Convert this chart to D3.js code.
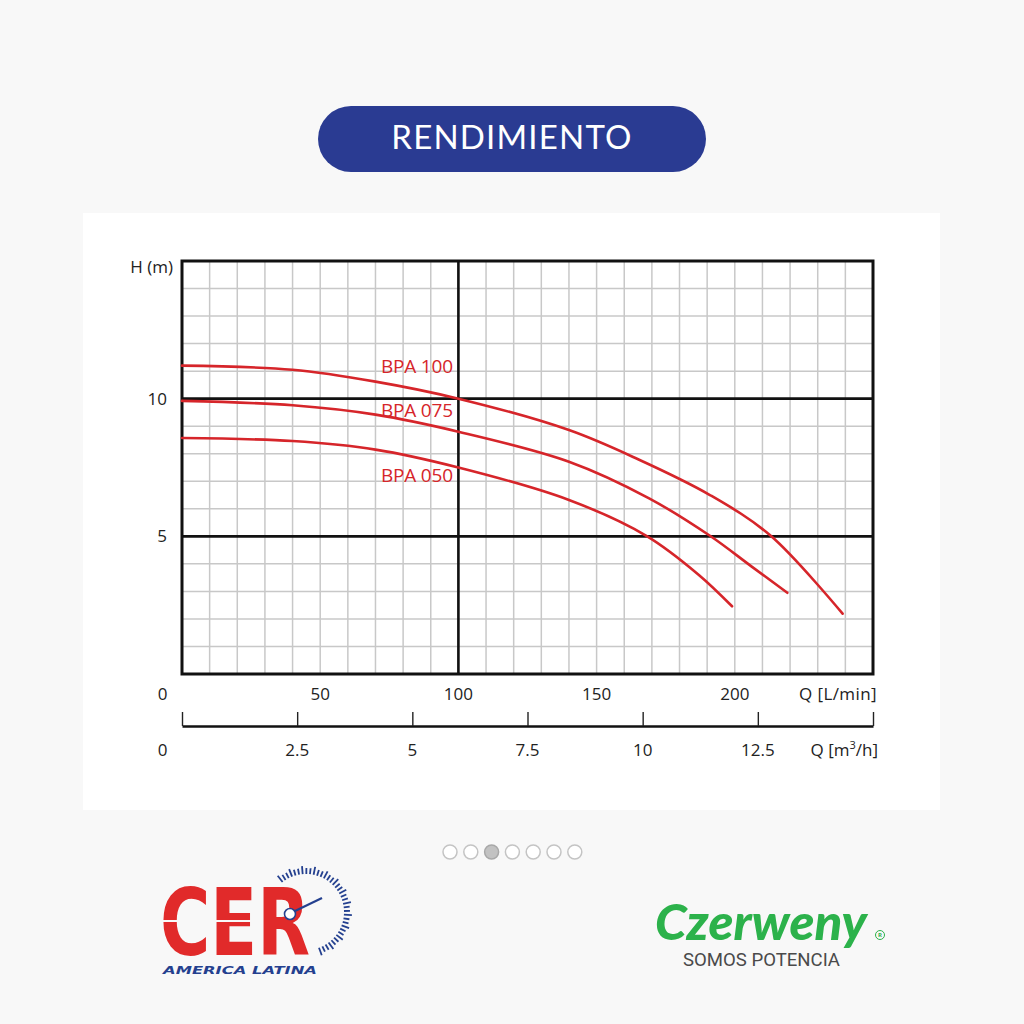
<!DOCTYPE html>
<html>
<head>
<meta charset="utf-8">
<script src="https://cdn.jsdelivr.net/npm/d3@7"></script>
<style>
  html, body { margin: 0; padding: 0; background: #f8f8f8; }
  svg { display: block; }
</style>
</head>
<body>
<svg id="chart" width="1024" height="1024"></svg>
<script>
// ---------------- DATA ----------------
const title = "RENDIMIENTO";
const seriesNames = ["BPA 100", "BPA 075", "BPA 050"];

// Q in L/min, H in m
const bpa100Q = [0, 40, 70, 100, 140, 165, 191, 213, 239];
const bpa100H = [11.2, 11.05, 10.62, 10.0, 8.86, 7.8, 6.5, 5.02, 2.19];

const bpa075Q = [0, 40, 70, 100, 140, 169, 191, 206, 219];
const bpa075H = [9.92, 9.76, 9.42, 8.8, 7.71, 6.38, 5.02, 3.91, 2.95];

const bpa050Q = [0, 40, 70, 100, 140, 168, 187, 199];
const bpa050H = [8.57, 8.46, 8.15, 7.5, 6.32, 5.02, 3.6, 2.46];

// label anchor positions (data units)
const labelQ = [98, 98, 98];
const labelH = [10.93, 9.34, 6.96];

// axes
const qDomain = [0, 250];          // L/min
const hDomain = [0, 15];           // m
const m3Domain = [0, 15];          // m3/h
const qTickLabels = [50, 100, 150, 200];
const hTickLabels = [5, 10];
const m3Ticks = [0, 2.5, 5, 7.5, 10, 12.5, 15];
const m3TickLabels = ["2.5", "5", "7.5", "10", "12.5"];
const m3TickValues = [2.5, 5, 7.5, 10, 12.5];
const qGrid = d3.range(10, 250, 10);
const hGrid = d3.range(1, 15, 1);
const heavyQ = [100];
const heavyH = [5, 10];

const pagerCount = 7;
const pagerActive = 2;

// ---------------- DRAW ----------------
const svg = d3.select("#chart");
const RED = "#d6252a";
const FONT = "'Open Sans', 'Noto Sans', sans-serif";

// page background
svg.append("rect").attr("width", 1024).attr("height", 1024).attr("fill", "#f8f8f8");

// title pill
svg.append("rect").attr("x", 318).attr("y", 106).attr("width", 388).attr("height", 66)
  .attr("rx", 33).attr("fill", "#2a3b92");
svg.append("text").attr("x", 512).attr("y", 149).attr("text-anchor", "middle")
  .attr("font-family", "Lato, 'Open Sans', sans-serif").attr("font-size", 33)
  .attr("letter-spacing", 1.2).attr("fill", "#ffffff").text(title);

// white card
svg.append("rect").attr("x", 83).attr("y", 213).attr("width", 857).attr("height", 597).attr("fill", "#ffffff");

const x = d3.scaleLinear().domain(qDomain).range([182, 873]);
const y = d3.scaleLinear().domain(hDomain).range([674, 261]);
const xm3 = d3.scaleLinear().domain(m3Domain).range([182, 873]);

const plot = svg.append("g");

// grid
plot.selectAll("line.vg").data(qGrid).join("line")
  .attr("x1", d => x(d)).attr("x2", d => x(d)).attr("y1", y(15)).attr("y2", y(0))
  .attr("stroke", "#c8c8c8").attr("stroke-width", 1.5);
plot.selectAll("line.hg").data(hGrid).join("line")
  .attr("y1", d => y(d)).attr("y2", d => y(d)).attr("x1", x(0)).attr("x2", x(250))
  .attr("stroke", "#c8c8c8").attr("stroke-width", 1.5);

// heavy lines
plot.selectAll("line.hq").data(heavyQ).join("line")
  .attr("x1", d => x(d)).attr("x2", d => x(d)).attr("y1", y(15)).attr("y2", y(0))
  .attr("stroke", "#111").attr("stroke-width", 2.6);
plot.selectAll("line.hh").data(heavyH).join("line")
  .attr("y1", d => y(d)).attr("y2", d => y(d)).attr("x1", x(0)).attr("x2", x(250))
  .attr("stroke", "#111").attr("stroke-width", 2.6);

// border
plot.append("rect").attr("x", x(0)).attr("y", y(15))
  .attr("width", x(250) - x(0)).attr("height", y(0) - y(15))
  .attr("fill", "none").attr("stroke", "#111").attr("stroke-width", 3);

// curves
const series = [
  { name: seriesNames[0], q: bpa100Q, h: bpa100H },
  { name: seriesNames[1], q: bpa075Q, h: bpa075H },
  { name: seriesNames[2], q: bpa050Q, h: bpa050H }
];
const line = d3.line().x(d => x(d[0])).y(d => y(d[1])).curve(d3.curveCatmullRom.alpha(0.5));
series.forEach((s, i) => {
  const pts = s.q.map((q, j) => [q, s.h[j]]);
  plot.append("path").attr("d", line(pts)).attr("fill", "none")
    .attr("stroke", RED).attr("stroke-width", 2.6).attr("stroke-linecap", "round");
  plot.append("text").attr("x", x(labelQ[i])).attr("y", y(labelH[i]))
    .attr("text-anchor", "end").attr("font-family", FONT).attr("font-size", 19)
    .attr("letter-spacing", -0.2).attr("fill", RED).text(s.name);
});

// y labels
const yl = svg.append("g").attr("font-family", FONT).attr("font-size", 17).attr("fill", "#222");
yl.selectAll("text.yt").data(hTickLabels).join("text")
  .attr("x", x(0) - 15).attr("y", d => y(d) + 6).attr("text-anchor", "end").text(d => d);
yl.append("text").attr("x", x(0) - 9).attr("y", 273).attr("text-anchor", "end").text("H (m)");

// x labels (L/min)
const xl = svg.append("g").attr("font-family", FONT).attr("font-size", 17).attr("fill", "#222");
xl.selectAll("text.xt").data(qTickLabels).join("text")
  .attr("x", d => x(d)).attr("y", 700).attr("text-anchor", "middle").text(d => d);
xl.append("text").attr("x", x(0) - 19.5).attr("y", 700).attr("text-anchor", "middle").text("0");
xl.append("text").attr("x", 877).attr("y", 700).attr("text-anchor", "end")
  .attr("letter-spacing", 0.4).text("Q [L/min]");

// secondary axis (m3/h)
const ax = svg.append("g").attr("transform", "translate(0,726)")
  .call(d3.axisTop(xm3).tickValues(m3Ticks).tickSize(14).tickSizeOuter(0).tickFormat(""));
ax.select(".domain").attr("stroke", "#111").attr("stroke-width", 2.6);
ax.selectAll(".tick line").attr("stroke", "#222").attr("stroke-width", 1.4);

const ml = svg.append("g").attr("font-family", FONT).attr("font-size", 17).attr("fill", "#222");
ml.selectAll("text.mt").data(m3TickValues).join("text")
  .attr("x", d => xm3(d)).attr("y", 756).attr("text-anchor", "middle")
  .text((d, i) => m3TickLabels[i]);
ml.append("text").attr("x", x(0) - 19.5).attr("y", 756).attr("text-anchor", "middle").text("0");
const qm = ml.append("text").attr("x", 878).attr("y", 756).attr("text-anchor", "end");
qm.append("tspan").text("Q  [m");
qm.append("tspan").attr("font-size", 11).attr("dy", -7).text("3");
qm.append("tspan").attr("dy", 7).text("/h]");

// pager dots
const dots = d3.range(pagerCount);
svg.selectAll("circle.dot").data(dots).join("circle")
  .attr("cx", d => 450 + d * 20.8).attr("cy", 852).attr("r", 7)
  .attr("fill", d => d === pagerActive ? "#c2c2c2" : "#ffffff")
  .attr("stroke", d => d === pagerActive ? "#a8a8a8" : "#c4c4c4").attr("stroke-width", 1.5);

// ---- CER logo ----
const cer = svg.append("g");
cer.append("text").attr("x", 160).attr("y", 955)
  .attr("font-family", "'DejaVu Sans', sans-serif").attr("font-weight", "bold")
  .attr("font-size", 92).attr("textLength", 150).attr("lengthAdjust", "spacingAndGlyphs")
  .attr("fill", "#e12a2a").text("CER");
cer.append("line").attr("x1", 160).attr("x2", 262).attr("y1", 921).attr("y2", 921)
  .attr("stroke", "#f8f8f8").attr("stroke-width", 2);
cer.append("text").attr("x", 163).attr("y", 974)
  .attr("font-family", "'DejaVu Sans', sans-serif").attr("font-weight", "bold").attr("font-style", "italic")
  .attr("font-size", 10.5).attr("textLength", 154).attr("lengthAdjust", "spacingAndGlyphs")
  .attr("fill", "#24408f").text("AMERICA LATINA");
// gauge ticks
const gc = [306, 912];
const angles = d3.range(-128, 72, 5.5);
cer.selectAll("line.gt").data(angles).join("line")
  .attr("x1", a => gc[0] + 38 * Math.cos(a * Math.PI / 180))
  .attr("y1", a => gc[1] + 38 * Math.sin(a * Math.PI / 180))
  .attr("x2", (a, i) => gc[0] + (i % 3 === 0 ? 46 : 44) * Math.cos(a * Math.PI / 180))
  .attr("y2", (a, i) => gc[1] + (i % 3 === 0 ? 46 : 44) * Math.sin(a * Math.PI / 180))
  .attr("stroke", "#24408f").attr("stroke-width", 1.8);
cer.append("circle").attr("cx", 290).attr("cy", 914).attr("r", 5.5)
  .attr("fill", "#fff").attr("stroke", "#24408f").attr("stroke-width", 1.6);
cer.append("line").attr("x1", 295).attr("y1", 911).attr("x2", 322).attr("y2", 898)
  .attr("stroke", "#24408f").attr("stroke-width", 2.2);

// ---- Czerweny logo ----
const cz = svg.append("g");
cz.append("text").attr("x", 655).attr("y", 940)
  .attr("font-family", "Lato, 'Liberation Sans', sans-serif").attr("font-weight", 900).attr("font-style", "italic")
  .attr("font-size", 50).attr("textLength", 212).attr("lengthAdjust", "spacingAndGlyphs")
  .attr("fill", "#2cb24b").text("Czerweny");
cz.append("circle").attr("cx", 880).attr("cy", 935).attr("r", 4.5)
  .attr("fill", "none").attr("stroke", "#2cb24b").attr("stroke-width", 1);
cz.append("text").attr("x", 880).attr("y", 937.2).attr("text-anchor", "middle")
  .attr("font-family", FONT).attr("font-size", 6).attr("font-weight", "bold").attr("fill", "#2cb24b").text("R");
cz.append("text").attr("x", 683).attr("y", 966)
  .attr("font-family", "Roboto, 'Open Sans', sans-serif").attr("font-weight", 400)
  .attr("font-size", 19).attr("textLength", 157).attr("lengthAdjust", "spacingAndGlyphs")
  .attr("fill", "#4a4a4a").text("SOMOS POTENCIA");
</script>
</body>
</html>
